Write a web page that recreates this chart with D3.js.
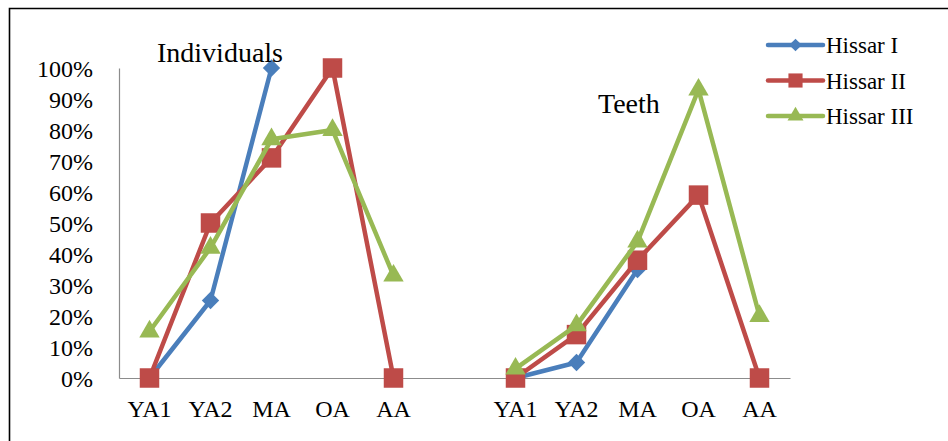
<!DOCTYPE html>
<html>
<head>
<meta charset="utf-8">
<script src="https://cdn.jsdelivr.net/npm/d3@7"></script>
<style>
  body { margin: 0; background: #fff; }
  text { font-family: "Liberation Serif", "Times New Roman", serif; fill: #000; }
</style>
</head>
<body>
<script>
// categories: two groups (Individuals, Teeth) with an empty slot between them
const categories = ["YA1", "YA2", "MA", "OA", "AA", "", "YA1", "YA2", "MA", "OA", "AA"];
const yTicks = [0, 0.1, 0.2, 0.3, 0.4, 0.5, 0.6, 0.7, 0.8, 0.9, 1];

// values in percent, null = no point
const hissarI   = [0, 25, 100, null, null, null, 0, 5, 35, null, null];
const hissarII  = [0, 50, 71, 100, 0, null, 0, 14, 38, 59, 0];
const hissarIII = [15, 42, 77, 80, 33, null, 3, 17, 44, 93, 20];

const seriesNames = ["Hissar I", "Hissar II", "Hissar III"];
const seriesValues = [hissarI, hissarII, hissarIII];
const colors = ["#4A7EBB", "#BE4B48", "#98B954"];
const symbols = [d3.symbolSquare, d3.symbolSquare, d3.symbolTriangle];
const rotation = [45, 0, 0];

const W = 948, H = 441;
const plot = {left: 119, right: 790, top: 68, bottom: 378};

const svg = d3.select("body")
  .append("svg")
  .attr("width", W)
  .attr("height", H);

// outer frame (only top and left visible)
svg.append("path")
  .attr("d", `M9.5,${H} V8.5 H${W}`)
  .attr("fill", "none")
  .attr("stroke", "#000")
  .attr("stroke-width", 1.6);

const x = d3.scaleBand()
  .domain(d3.range(categories.length))
  .range([plot.left, plot.right]);

const y = d3.scaleLinear()
  .domain([0, 1])
  .range([plot.bottom, plot.top]);

// Y axis
const yAxis = svg.append("g")
  .attr("transform", `translate(${plot.left},0)`)
  .call(d3.axisLeft(y).tickValues(yTicks).tickFormat(d3.format(".0%")).tickSize(0).tickPadding(26));
yAxis.select(".domain").attr("stroke", "#8c8c8c").attr("stroke-width", 1.2);
yAxis.selectAll("text")
  .style("font-family", "'Liberation Serif', serif")
  .style("font-size", "24px")
  .attr("dy", "0.35em");

// X axis
const xAxis = svg.append("g")
  .attr("transform", `translate(0,${plot.bottom})`)
  .call(d3.axisBottom(x).tickFormat(i => categories[i]).tickSize(0).tickPadding(22));
xAxis.select(".domain").attr("stroke", "#8c8c8c").attr("stroke-width", 1.2);
xAxis.selectAll("text")
  .style("font-family", "'Liberation Serif', serif")
  .style("font-size", "24px")
  .attr("dy", "0.71em");

const cx = i => x(i) + x.bandwidth() / 2;

const line = d3.line()
  .defined(d => d.v !== null)
  .x(d => cx(d.i))
  .y(d => y(d.v / 100));

const markerSize = [150, 380, 180];

seriesValues.forEach((vals, s) => {
  const pts = vals.map((v, i) => ({i, v}));
  svg.append("path")
    .datum(pts)
    .attr("d", line)
    .attr("fill", "none")
    .attr("stroke", colors[s])
    .attr("stroke-width", 4.5)
    .attr("stroke-linejoin", "round");

  svg.selectAll(".m" + s)
    .data(pts.filter(d => d.v !== null))
    .join("path")
    .attr("class", "m" + s)
    .attr("transform", d => `translate(${cx(d.i)},${y(d.v / 100)}) rotate(${rotation[s]})`)
    .attr("d", d3.symbol().type(symbols[s]).size(markerSize[s]))
    .attr("fill", colors[s]);
});

// group titles
svg.append("text")
  .attr("x", 157)
  .attr("y", 62)
  .style("font-size", "28px")
  .text("Individuals");

svg.append("text")
  .attr("x", 598)
  .attr("y", 113)
  .style("font-size", "28px")
  .text("Teeth");

// legend
const legend = svg.append("g");
seriesNames.forEach((name, s) => {
  const ly = 45 + s * 35.5;
  legend.append("line")
    .attr("x1", 768).attr("x2", 823)
    .attr("y1", ly).attr("y2", ly)
    .attr("stroke", colors[s])
    .attr("stroke-width", 4.5)
    .attr("stroke-linecap", "round");
  legend.append("path")
    .attr("transform", `translate(795.5,${ly}) rotate(${rotation[s]})`)
    .attr("d", d3.symbol().type(symbols[s]).size([80, 200, 110][s]))
    .attr("fill", colors[s]);
  legend.append("text")
    .attr("x", 826)
    .attr("y", ly + 8)
    .style("font-size", "23px")
    .text(name);
});
</script>
</body>
</html>
